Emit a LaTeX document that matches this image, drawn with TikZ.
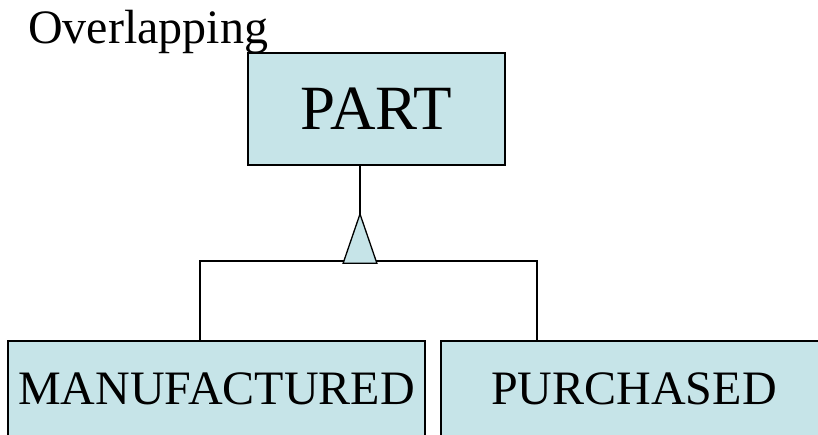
\documentclass[tikz,border=0pt]{standalone}
\usepackage{fontspec}
\setmainfont{Liberation Serif}
\usetikzlibrary{positioning, shapes.geometric}
\definecolor{boxblue}{RGB}{198,228,232}

\begin{document}
\begin{tikzpicture}[x=1bp, y=-1bp]

    \clip (0,0) rectangle (818,435);

    \node[anchor=base west, inner sep=0pt,
    font=\fontsize{48bp}{50bp}\selectfont] (title) at (28,44) {Overlapping};

    \node[rectangle, draw, fill=boxblue, line width=1.2bp,
    minimum height=112bp,
    minimum width=257bp,
    inner sep=0pt,
    font=\fontsize{63bp}{66bp}\selectfont] (part) at (376.5,109) {PART};

    \node[rectangle, draw, fill=boxblue, line width=1.2bp,
    minimum height=96bp,
    minimum width=417bp,
    inner sep=0pt,
    font=\fontsize{48bp}{50bp}\selectfont] (manu) at (216.5,389) {MANUFACTURED};

    \node[rectangle, draw, fill=boxblue, line width=1.2bp,
    minimum height=96bp,
    minimum width=386bp,
    inner sep=0pt,
    font=\fontsize{48bp}{50bp}\selectfont] (purch) at (634,389) {PURCHASED};

      % the subset triangle sits on the junction line
      \node[isosceles triangle, shape border rotate=90,
      isosceles triangle stretches,
      draw, fill=boxblue, line width=1.3bp,
      minimum height=47bp,
      minimum width=32bp,
      inner sep=0pt,
      anchor=apex] (isa) at (360,214) {};

      \coordinate (jl) at (200,261);
      \coordinate (jr) at (537,261);

      \draw[line width=1.3bp] (isa.apex) -- (isa.apex |- part.south);
      \draw[line width=1.3bp] (jl |- manu.north) -- (jl) -- (jr) -- (jr |- purch.north);
      \draw[line width=1.3bp, fill=boxblue] (isa.left corner) -- (isa.apex) -- (isa.right corner) -- cycle;
    \end{tikzpicture}
\end{document}
